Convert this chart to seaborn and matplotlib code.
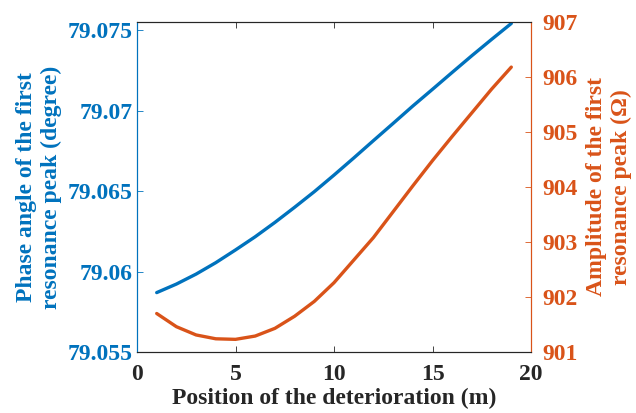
import matplotlib
matplotlib.use("Agg")
import matplotlib.pyplot as plt
import numpy as np
import pandas as pd
import seaborn as sns

# positions of the deterioration (m)
position = list(range(1, 20))

# phase angle of the first resonance peak (degree)
phase = [79.05869, 79.05922, 79.05984, 79.06055, 79.06134, 79.06216, 79.06305,
         79.06399, 79.06496, 79.06599, 79.06705, 79.06813, 79.06920, 79.07028,
         79.07132, 79.07237, 79.07341, 79.07442, 79.07541]

# amplitude of the first resonance peak (ohm)
amplitude = [901.70, 901.46, 901.31, 901.24, 901.23, 901.29, 901.43, 901.65,
             901.92, 902.26, 902.67, 903.08, 903.55, 904.02, 904.48, 904.92,
             905.35, 905.78, 906.18]

x_ticks = [0, 5, 10, 15, 20]
phase_ticks = [79.055, 79.06, 79.065, 79.07, 79.075]
phase_labels = ["79.055", "79.06", "79.065", "79.07", "79.075"]
amp_ticks = [901, 902, 903, 904, 905, 906, 907]

blue = "#0072BD"
orange = "#D95319"

sns.set_style("white")
plt.rcParams["font.family"] = ["Liberation Serif", "DejaVu Serif"]
plt.rcParams["font.weight"] = "bold"

df = pd.DataFrame({"position": position, "phase": phase, "amplitude": amplitude})

fig = plt.figure(figsize=(6.36, 4.13), dpi=100)
ax = fig.add_axes([137 / 636, 1 - 352 / 413, (531 - 137) / 636, (352 - 22) / 413])
ax2 = ax.twinx()

sns.lineplot(data=df, x="position", y="phase", ax=ax, color=blue, linewidth=2.4)
sns.lineplot(data=df, x="position", y="amplitude", ax=ax2, color=orange, linewidth=2.4)

ax.set_xlim(0, 20)
ax.set_ylim(79.055, 79.0755)
ax2.set_ylim(901, 907)
ax.set_xticks(x_ticks)
ax.set_xticklabels([str(t) for t in x_ticks])
ax.set_yticks(phase_ticks)
ax.set_yticklabels(phase_labels)
ax2.set_yticks(amp_ticks)
ax2.set_yticklabels([str(t) for t in amp_ticks])

fs = 17
ax.set_xlabel("Position of the deterioration (m)", fontsize=fs, fontweight="bold",
              color="#262626", labelpad=2)
ax.set_ylabel("Phase angle of the first\nresonance peak (degree)", fontsize=fs,
              fontweight="bold", color=blue, labelpad=4, linespacing=1.25)
ax2.set_ylabel("Amplitude of the first\nresonance peak (\u03a9)", fontsize=fs,
               fontweight="bold", color=orange, labelpad=6, linespacing=1.25)

ax.tick_params(axis="x", direction="in", length=4, labelsize=fs, colors="#262626",
               top=True, bottom=True, pad=9, width=0.6)
ax.tick_params(axis="y", direction="in", length=4, labelsize=fs, colors=blue,
               left=True, right=False, pad=3, width=0.6)
ax2.tick_params(axis="y", direction="in", length=4, labelsize=fs, colors=orange,
                right=True, pad=8, width=0.6)
for lab in ax.get_xticklabels() + ax.get_yticklabels() + ax2.get_yticklabels():
    lab.set_fontweight("bold")

for a in (ax, ax2):
    a.spines["top"].set_color("#262626")
    a.spines["bottom"].set_color("#262626")
    a.spines["left"].set_color(blue)
    a.spines["right"].set_color(orange)
    for s in a.spines.values():
        s.set_linewidth(0.8)

fig.savefig("out.png", dpi=100, facecolor="white")
